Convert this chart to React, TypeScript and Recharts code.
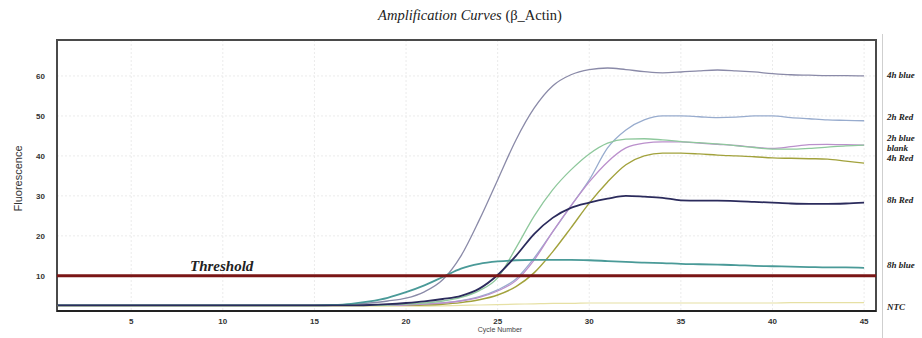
import React from 'react';
import {
  LineChart,
  Line,
  XAxis,
  YAxis,
  CartesianGrid,
  ReferenceLine,
  ReferenceArea,
  ReferenceDot,
} from 'recharts';

const cycles = [
  1, 2, 3, 4, 5, 6, 7, 8, 9, 10, 11, 12, 13, 14, 15, 16, 17, 18, 19, 20, 21, 22, 23,
  24, 25, 26, 27, 28, 29, 30, 31, 32, 33, 34, 35, 36, 37, 38, 39, 40, 41, 42, 43, 44, 45,
];

const blue4h = [
  2.6, 2.6, 2.6, 2.6, 2.6, 2.6, 2.6, 2.6, 2.6, 2.6, 2.6, 2.6, 2.6, 2.6, 2.6, 2.6,
  2.8, 3.2, 3.7, 4.4, 6.0, 9.0, 15.0, 24.0, 34.0, 44.0, 52.0, 57.5, 60.3, 61.6,
  62.0, 61.6, 61.1, 60.8, 61.0, 61.3, 61.5, 61.3, 61.0, 60.6, 60.3, 60.2, 60.1, 60.1, 60.0,
];
const red2h = [
  2.6, 2.6, 2.6, 2.6, 2.6, 2.6, 2.6, 2.6, 2.6, 2.6, 2.6, 2.6, 2.6, 2.6, 2.6, 2.6,
  2.6, 2.6, 2.6, 2.7, 2.9, 3.2, 3.8, 4.8, 6.5, 9.2, 14.5, 21.0, 27.5, 34.0,
  42.0, 46.5, 49.0, 50.0, 50.0, 49.8, 49.6, 49.7, 50.0, 50.0, 49.6, 49.3, 49.0, 48.9, 48.8,
];
const blue2h = [
  2.6, 2.6, 2.6, 2.6, 2.6, 2.6, 2.6, 2.6, 2.6, 2.6, 2.6, 2.6, 2.6, 2.6, 2.6, 2.6,
  2.6, 2.6, 2.7, 2.9, 3.2, 3.7, 4.6, 6.3, 9.5, 17.0, 25.0, 31.5, 36.5, 40.5,
  43.2, 44.2, 44.3, 44.0, 43.6, 43.3, 43.0, 42.6, 42.1, 41.7, 41.7, 41.9, 42.2, 42.5, 42.7,
];
const blank = [
  2.6, 2.6, 2.6, 2.6, 2.6, 2.6, 2.6, 2.6, 2.6, 2.6, 2.6, 2.6, 2.6, 2.6, 2.6, 2.6,
  2.6, 2.6, 2.6, 2.7, 2.9, 3.2, 3.7, 4.6, 6.2, 8.8, 14.0, 21.0, 27.5, 33.5,
  38.5, 42.0, 43.2, 43.5, 43.5, 43.2, 42.9, 42.6, 42.2, 41.9, 42.3, 42.8, 42.9, 42.8, 42.7,
];
const red4h = [
  2.6, 2.6, 2.6, 2.6, 2.6, 2.6, 2.6, 2.6, 2.6, 2.6, 2.6, 2.6, 2.6, 2.6, 2.6, 2.6,
  2.6, 2.6, 2.6, 2.6, 2.7, 2.9, 3.3, 4.0, 5.2, 7.3, 10.8, 16.0, 22.0, 28.2,
  33.5, 37.8, 40.0, 40.7, 40.7, 40.5, 40.2, 40.0, 39.8, 39.5, 39.4, 39.3, 39.2, 38.7, 38.2,
];
const red8h = [
  2.6, 2.6, 2.6, 2.6, 2.6, 2.6, 2.6, 2.6, 2.6, 2.6, 2.6, 2.6, 2.6, 2.6, 2.6, 2.6,
  2.6, 2.7, 2.9, 3.2, 3.6, 4.2, 5.0, 6.8, 10.2, 15.0, 20.5, 24.5, 27.0, 28.3,
  29.3, 30.0, 29.8, 29.5, 28.9, 28.8, 28.8, 28.7, 28.5, 28.3, 28.1, 28.0, 28.0, 28.1, 28.3,
];
const blue8h = [
  2.6, 2.6, 2.6, 2.6, 2.6, 2.6, 2.6, 2.6, 2.6, 2.6, 2.6, 2.6, 2.6, 2.6, 2.6, 2.7,
  3.0, 3.6, 4.5, 5.9, 7.6, 9.7, 11.8, 13.0, 13.6, 13.9, 14.0, 14.0, 14.0, 13.9,
  13.7, 13.5, 13.3, 13.2, 13.0, 12.9, 12.8, 12.7, 12.5, 12.4, 12.3, 12.2, 12.1, 12.1, 12.0,
];
const ntc = [
  2.4, 2.4, 2.4, 2.4, 2.4, 2.4, 2.4, 2.4, 2.4, 2.4, 2.4, 2.4, 2.4, 2.4, 2.4, 2.4,
  2.4, 2.4, 2.4, 2.4, 2.4, 2.5, 2.6, 2.7, 2.8, 2.9, 3.0, 3.1, 3.1, 3.2,
  3.2, 3.2, 3.2, 3.2, 3.2, 3.2, 3.2, 3.2, 3.2, 3.2, 3.3, 3.3, 3.3, 3.3, 3.3,
];

const xTicks = [5, 10, 15, 20, 25, 30, 35, 40, 45];
const yTicks = [10, 20, 30, 40, 50, 60];
const thresholdValue = 10;

const endLabels = ['4h blue', '2h Red', '2h blue', 'blank', '4h Red', '8h Red', '8h blue', 'NTC'];
const endLabelValues = [60.25, 49.75, 44.6, 42.1, 39.6, 29, 12.75, 2.25];

const data = cycles.map((c, i) => ({
  cycle: c,
  blue4h: blue4h[i],
  red2h: red2h[i],
  blue2h: blue2h[i],
  blank: blank[i],
  red4h: red4h[i],
  red8h: red8h[i],
  blue8h: blue8h[i],
  ntc: ntc[i],
}));

const series = [
  { key: 'ntc', color: '#e6e0a4', width: 1.2 },
  { key: 'blue4h', color: '#8a8aa8', width: 1.3 },
  { key: 'red2h', color: '#98acce', width: 1.3 },
  { key: 'red4h', color: '#a2a23c', width: 1.4 },
  { key: 'blank', color: '#bb90cc', width: 1.3 },
  { key: 'blue2h', color: '#8ec89c', width: 1.3 },
  { key: 'blue8h', color: '#4a9a98', width: 1.8 },
  { key: 'red8h', color: '#2b2b5c', width: 1.8 },
];

const X_MIN = 0.95;
const X_MAX = 45.65;
const Y_MIN = 1.2;
const Y_MAX = 69;

const tickStyle = { fontSize: 8, fill: '#333', fontFamily: 'Liberation Sans, Arial, sans-serif', fontWeight: 'bold' as const };

export default function App() {
  return (
    <div style={{ position: 'absolute', left: 0, top: 0, width: 922, height: 338, background: '#fff' }}>
      <div
        style={{
          position: 'absolute',
          left: 0,
          top: 7,
          width: 940,
          textAlign: 'center',
          fontFamily: 'Liberation Serif, Times New Roman, serif',
          fontSize: 14.5,
          color: '#222',
        }}
      >
        <span style={{ fontStyle: 'italic' }}>Amplification Curves </span>
        <span>(β_Actin)</span>
      </div>
      <div
        style={{
          position: 'absolute',
          left: 882,
          top: 34,
          width: 0,
          height: 304,
          borderLeft: '1px solid #cfcfcf',
        }}
      />
      <LineChart
        width={922}
        height={338}
        data={data}
        margin={{ top: 40, right: 46, bottom: 11, left: 37 }}
        style={{ position: 'absolute', left: 0, top: 0 }}
      >
        <CartesianGrid stroke="#ebebeb" strokeDasharray="2 2" />
        <XAxis
          dataKey="cycle"
          type="number"
          domain={[X_MIN, X_MAX]}
          ticks={xTicks}
          allowDataOverflow
          axisLine={false}
          tickLine={false}
          tickSize={0}
          tickMargin={7}
          height={16}
          tick={tickStyle}
          label={(props: any) => {
            const vb = props.viewBox || {};
            return (
              <text
                x={(vb.x ?? 57) + 443}
                y={(vb.y ?? 311) + 21}
                textAnchor="middle"
                fontSize={7}
                fill="#444"
                fontFamily="Liberation Sans, Arial, sans-serif"
              >
                Cycle Number
              </text>
            );
          }}
        />
        <YAxis
          type="number"
          domain={[Y_MIN, Y_MAX]}
          ticks={yTicks}
          allowDataOverflow
          axisLine={false}
          tickLine={false}
          tickSize={0}
          tickMargin={12}
          width={20}
          tick={tickStyle}
          label={(props: any) => {
            const vb = props.viewBox || {};
            const cx = 22;
            const cy = (vb.y ?? 40) + (vb.height ?? 271) / 2 + 3;
            return (
              <text
                x={cx}
                y={cy}
                textAnchor="middle"
                fontSize={11}
                fill="#333"
                fontFamily="Liberation Sans, Arial, sans-serif"
                transform={`rotate(-90 ${cx} ${cy})`}
              >
                Fluorescence
              </text>
            );
          }}
        />
        {series.map((s) => (
          <Line
            key={s.key}
            type="monotone"
            dataKey={s.key}
            stroke={s.color}
            strokeWidth={s.width}
            dot={false}
            activeDot={false}
            isAnimationActive={false}
          />
        ))}
        <ReferenceLine
          y={thresholdValue}
          stroke="#7a1616"
          strokeWidth={3}
          label={(props: any) => {
            const vb = props.viewBox || {};
            return (
              <text
                x={(vb.x ?? 57) + 133}
                y={(vb.y ?? 276) - 5}
                fontSize={15}
                fontWeight="bold"
                fontStyle="italic"
                fill="#222"
                fontFamily="Liberation Serif, Times New Roman, serif"
              >
                Threshold
              </text>
            );
          }}
        />
        <ReferenceArea
          x1={X_MIN}
          x2={X_MAX}
          y1={Y_MIN}
          y2={Y_MAX}
          fill="none"
          fillOpacity={0}
          stroke="#4a4a4a"
          strokeWidth={2}
          ifOverflow="visible"
        />
        <ReferenceLine y={Y_MIN} stroke="#222" strokeWidth={2} ifOverflow="visible" />
        {endLabels.map((name, i) => (
          <ReferenceDot
            key={name}
            x={X_MAX}
            y={endLabelValues[i]}
            r={0}
            fill="none"
            stroke="none"
            ifOverflow="visible"
            label={(props: any) => {
              const vb = props.viewBox || {};
              return (
                <text
                  x={(vb.x ?? 876) + 11}
                  y={(vb.y ?? 0) + 3}
                  fontSize={9}
                  fontWeight="bold"
                  fontStyle="italic"
                  fill="#222"
                  fontFamily="Liberation Serif, Times New Roman, serif"
                >
                  {name}
                </text>
              );
            }}
          />
        ))}
      </LineChart>
    </div>
  );
}
